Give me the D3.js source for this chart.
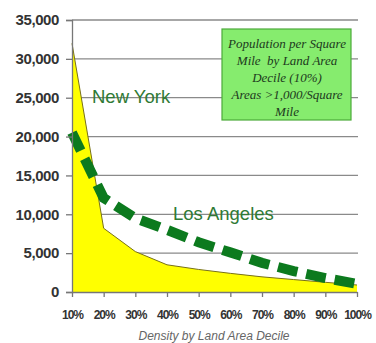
<!DOCTYPE html>
<html>
<head>
<meta charset="utf-8">
<script src="https://cdn.jsdelivr.net/npm/d3@7"></script>
<style>
  html, body { margin: 0; padding: 0; background: #fff; }
  svg { display: block; }
</style>
</head>
<body>
<svg id="chart" width="376" height="343"></svg>
<script>
// Population per square mile by land-area decile
const deciles = ["10%", "20%", "30%", "40%", "50%", "60%", "70%", "80%", "90%", "100%"];
const newYork = [32000, 8200, 5200, 3500, 2900, 2400, 1950, 1600, 1250, 900];
const losAngeles = [20500, 12100, 9500, 8000, 6400, 5100, 3750, 2700, 1800, 1050];
const yTicks = [0, 5000, 10000, 15000, 20000, 25000, 30000, 35000];
const noteLines = ["Population per Square", "Mile  by Land Area", "Decile (10%)", "Areas >1,000/Square", "Mile"];

const svg = d3.select("#chart");
const plotLeft = 72, plotRight = 357, plotTop = 20, plotBottom = 292;

const x = d3.scalePoint().domain(deciles).range([plotLeft, plotRight]);
const y = d3.scaleLinear().domain([0, 35000]).range([plotBottom, plotTop]);

// horizontal gridlines
svg.append("g")
  .selectAll("line")
  .data(yTicks.filter(d => d > 0))
  .join("line")
  .attr("x1", plotLeft).attr("x2", plotRight + 1)
  .attr("y1", d => y(d)).attr("y2", d => y(d))
  .attr("stroke", "#8a8a8a").attr("stroke-width", 1.3);

// New York as filled area
const area = d3.area()
  .x((d, i) => x(deciles[i]))
  .y0(plotBottom)
  .y1(d => y(d));
svg.append("path")
  .datum(newYork)
  .attr("d", area)
  .attr("fill", "#ffff00");
svg.append("path")
  .datum(newYork)
  .attr("d", d3.line().x((d, i) => x(deciles[i])).y(d => y(d)))
  .attr("fill", "none")
  .attr("stroke", "#77701a")
  .attr("stroke-width", 1);

// Los Angeles as thick dashed line
svg.append("path")
  .datum(losAngeles)
  .attr("d", d3.line().x((d, i) => x(deciles[i])).y(d => y(d)))
  .attr("fill", "none")
  .attr("stroke", "#0c7a1e")
  .attr("stroke-width", 10)
  .attr("stroke-dasharray", "20 9")
  .attr("stroke-linecap", "butt");

// axes
const yAxis = svg.append("g")
  .attr("transform", `translate(${plotLeft},0)`)
  .call(d3.axisLeft(y).tickValues(yTicks).tickFormat(d3.format(",")).tickSize(6).tickPadding(7));
yAxis.select(".domain").attr("stroke", "#777").attr("stroke-width", 1.3);
yAxis.selectAll(".tick line").attr("stroke", "#777").attr("stroke-width", 1.3);
yAxis.selectAll("text")
  .attr("font-family", "Liberation Sans, Arial, sans-serif")
  .attr("font-size", 15).attr("font-weight", "bold").attr("fill", "#333")
  .attr("letter-spacing", -0.4);

const xAxis = svg.append("g")
  .attr("transform", `translate(0,${plotBottom})`)
  .call(d3.axisBottom(x).tickSize(5).tickPadding(13).tickSizeOuter(0));
xAxis.select(".domain").attr("stroke", "#777").attr("stroke-width", 1.3);
xAxis.selectAll(".tick line").attr("stroke", "#777").attr("stroke-width", 1.3);
xAxis.selectAll("text")
  .attr("font-family", "Liberation Sans, Arial, sans-serif")
  .attr("font-size", 12).attr("font-weight", "bold").attr("fill", "#333")
  .attr("letter-spacing", -1);

// axis title
svg.append("text")
  .attr("x", 214).attr("y", 340)
  .attr("text-anchor", "middle")
  .attr("font-family", "Liberation Sans, Arial, sans-serif")
  .attr("font-size", 12).attr("font-style", "italic")
  .attr("fill", "#666")
  .text("Density by Land Area Decile");

// series labels
svg.append("text")
  .attr("x", 92).attr("y", 103)
  .attr("font-family", "Liberation Sans, Arial, sans-serif")
  .attr("font-size", 18.5).attr("fill", "#2f7a35")
  .text("New York");
svg.append("text")
  .attr("x", 173).attr("y", 220)
  .attr("font-family", "Liberation Sans, Arial, sans-serif")
  .attr("font-size", 18.5).attr("fill", "#2f7a35")
  .text("Los Angeles");

// note box
const note = svg.append("g");
note.append("rect")
  .attr("x", 222).attr("y", 29).attr("width", 129).attr("height", 91)
  .attr("fill", "#86ec6e").attr("stroke", "#4caa3a").attr("stroke-width", 1.2);
note.selectAll("text")
  .data(noteLines)
  .join("text")
  .attr("x", 287)
  .attr("y", (d, i) => 48 + i * 17)
  .attr("text-anchor", "middle")
  .attr("font-family", "Liberation Serif, Times New Roman, serif")
  .attr("font-size", 13).attr("font-style", "italic")
  .attr("fill", "#203a20")
  .style("white-space", "pre")
  .text(d => d);
</script>
</body>
</html>
